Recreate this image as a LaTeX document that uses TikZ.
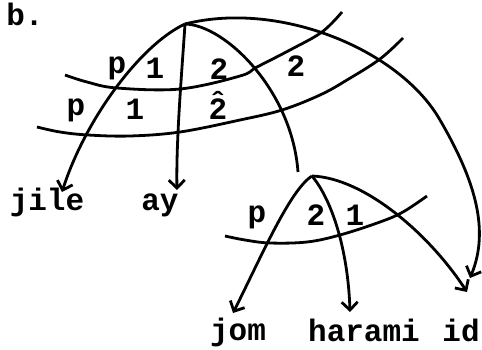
\documentclass[tikz,border=0pt]{standalone}
\usepackage{fontspec}
\setmainfont{Liberation Mono}
\usetikzlibrary{arrows.meta}

\begin{document}
\begin{tikzpicture}[inner sep=0pt,x=1pt,y=-1pt,line width=2.8pt,
  lab/.style={anchor=base,font=\fontsize{31}{36}\selectfont\bfseries},
  arr/.style={-{Straight Barb[length=8pt,width=16pt]}}]
\useasboundingbox (0,0) rectangle (482,350);

\coordinate (a0) at (185,24);
\coordinate (a1) at (312,176);

\node[lab] (b) at (25,26) {b.};

\draw plot[smooth,tension=0.6] coordinates {(65,75) (87,82) (117,88) (180,89) (240,76) (257,67) (290,50) (322,32) (342,12)};
\draw plot[smooth,tension=0.6] coordinates {(37,127) (60,132) (88,135) (130,136) (180,132) (240,120) (282,110) (320,95) (347,80) (380,59) (403,38)};
\draw plot[smooth,tension=0.6] coordinates {(225,236) (245,240) (270,243) (307,242) (340,235) (380,222) (403,212) (427,196)};

\node[lab] (l11) at (117,74) {p};
\node[lab] (l12) at (155,79) {1};
\node[lab] (l13) at (219,80) {2};
\node[lab] (l14) at (296,77) {2};
\node[lab] (l21) at (76,116) {p};
\node[lab] (l22) at (135,120) {1};
\node[lab] (l23) at (218,120) {\rlap{\raisebox{0.22em}{\char"02C6}}2};
\node[lab] (l31) at (257,222) {p};
\node[lab] (l32) at (316,225) {2};
\node[lab] (l33) at (355,225) {1};

\node[lab] (w1) at (47,210) {jile};
\node[lab] (w2) at (160,210) {ay};
\node[lab] (w3) at (238,340) {jom};
\node[lab] (w4) at (364,341) {harami};
\node[lab] (w5) at (461,341) {id};

\coordinate (t1) at (62,192);
\coordinate (t2) at (177,190);
\coordinate (t3) at (298,172);
\coordinate (t4) at (233,313);
\coordinate (t5) at (350,312);
\coordinate (t6) at (467,292);
\coordinate (t7) at (470,278);

\draw[arr] (a0) .. controls (140,45) and (85,120) .. (t1);
\draw[arr] (a0) .. controls (182,70) and (176,140) .. (t2);
\draw (a0) .. controls (225,25) and (292,90) .. (t3);
\draw[arr] (a0) .. controls (280,0) and (400,50) .. (440,120) .. controls (475,180) and (490,230) .. (t7);
\draw[arr] (a1) .. controls (290,190) and (262,255) .. (t4);
\draw[arr] (a1) .. controls (332,200) and (348,250) .. (t5);
\draw[arr] (a1) .. controls (365,178) and (430,235) .. (t6);
\end{tikzpicture}
\end{document}
